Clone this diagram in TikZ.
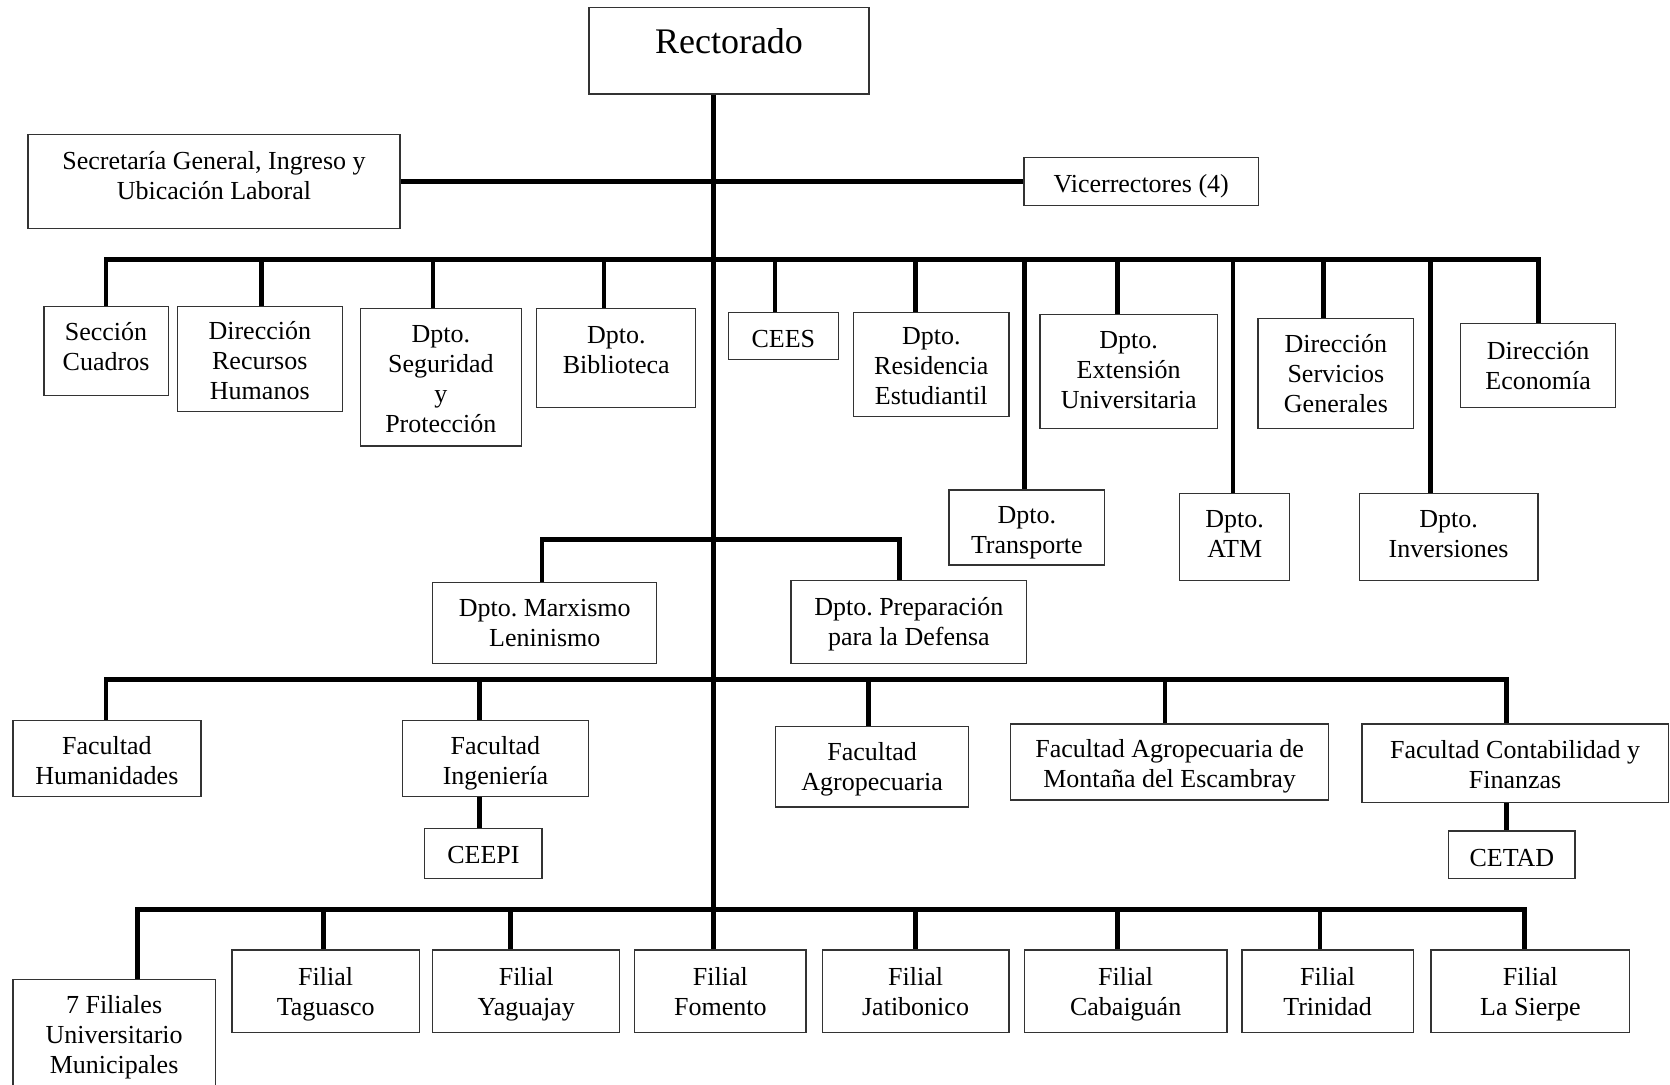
\documentclass[tikz,border=0pt]{standalone}
\usepackage{fontspec}
\setmainfont{Liberation Serif}
\newcommand\orgbox[7]{%
  \node[box, minimum width={(#4-#2)*1pt}, minimum height={(#5-#3)*1pt}] (#1) at ({(#2+#4)/2},{(#3+#5)/2}) {};
  \node[txt] (#1t) at ([yshift={(#6-4.3)*1pt}]#1.center) {#7};}
\begin{document}
\begin{tikzpicture}[x=1pt,y=-1pt,
  box/.style={draw=black!80, line width=1.3pt, inner sep=0pt},
  txt/.style={align=center, inner sep=0pt, font=\fontsize{26}{30}\selectfont\frenchspacing,
    execute at begin node=\strut, execute at end node=\strut},
  bus/.style={line width=4.5pt, line cap=rect},
  conn/.style={line width=4.5pt, line cap=butt}]
\useasboundingbox (0,0) rectangle (1670,1084);
\clip (0,0) rectangle (1670,1084);
\fill[white] (0,0) rectangle (1670,1084);

% boxes
\node[box, minimum width=280pt, minimum height=86.5pt] (rect) at (729,50.75) {};
\node[inner sep=0pt, font=\fontsize{36}{40}\selectfont] (rectt) at (729,41) {Rectorado};
\orgbox{sec}{27.9}{134.3}{400.1}{228.7}{6}{Secretaría General, Ingreso y\\Ubicación Laboral}
\orgbox{vic}{1023.9}{157.3}{1258.5}{205.3}{-1}{Vicerrectores (4)}
\orgbox{sc}{43.9}{306.3}{168.2}{395.3}{4}{Sección\\Cuadros}
\orgbox{rh}{177.3}{306.3}{342.3}{411.7}{-2}{Dirección\\Recursos\\Humanos}
\orgbox{seg}{360.5}{308.7}{521.2}{446}{-2}{Dpto.\\Seguridad\\y\\Protección}
\orgbox{bib}{536.7}{308.3}{695.8}{407.3}{8}{Dpto.\\Biblioteca}
\orgbox{cees}{728.5}{312.3}{838.2}{359.3}{-1}{CEES}
\orgbox{res}{853.6}{312.3}{1008.9}{416.3}{-2}{Dpto.\\Residencia\\Estudiantil}
\orgbox{ext}{1040}{314.3}{1217.3}{428.3}{1}{Dpto.\\Extensión\\Universitaria}
\orgbox{serv}{1258}{318.3}{1413.8}{428.3}{0}{Dirección\\Servicios\\Generales}
\orgbox{eco}{1460.4}{323.7}{1615.8}{407.3}{0}{Dirección\\Economía}
\orgbox{trans}{948.9}{490}{1104.8}{565}{-3}{Dpto.\\Transporte}
\orgbox{atm}{1179.8}{493.3}{1289.6}{580.7}{3}{Dpto.\\ATM}
\orgbox{inv}{1359.2}{493.3}{1538.1}{580.7}{3}{Dpto.\\Inversiones}
\orgbox{marx}{432.8}{582.3}{656.7}{663.3}{0}{Dpto. Marxismo\\Leninismo}
\orgbox{def}{791.1}{580.3}{1026.6}{663.7}{0}{Dpto. Preparación\\para la Defensa}
\orgbox{hum}{12.9}{720.7}{200.9}{796.7}{-2}{Facultad\\Humanidades}
\orgbox{ing}{402.3}{720.7}{588.6}{796.7}{-2}{Facultad\\Ingeniería}
\orgbox{ceepi}{424.8}{828.3}{542}{878.3}{0}{CEEPI}
\orgbox{agro}{775.6}{726.7}{968.7}{807}{0}{Facultad\\Agropecuaria}
\orgbox{mont}{1010.5}{724}{1328.7}{800}{-2}{Facultad Agropecuaria de\\Montaña del Escambray}
\orgbox{cont}{1361.9}{724}{1668.2}{802.7}{-1}{Facultad Contabilidad y\\Finanzas}
\orgbox{cetad}{1448.6}{831}{1575}{878.3}{-2}{CETAD}
\orgbox{fil7}{12.9}{979.3}{215.3}{1095}{2}{7 Filiales\\Universitario\\Municipales}
\orgbox{tag}{231.9}{950}{419.4}{1032.7}{0}{Filial\\Taguasco}
\orgbox{yag}{432.8}{950}{619.7}{1032.7}{0}{Filial\\Yaguajay}
\orgbox{fom}{634.7}{950}{806.1}{1032.7}{0}{Filial\\Fomento}
\orgbox{jat}{822.2}{950}{1008.9}{1032.7}{0}{Filial\\Jatibonico}
\orgbox{cab}{1024.4}{950}{1226.9}{1032.7}{0}{Filial\\Cabaiguán}
\orgbox{tri}{1241.9}{950}{1413.3}{1032.7}{0}{Filial\\Trinidad}
\orgbox{sie}{1431}{950}{1629.7}{1032.7}{0}{Filial\\La Sierpe}

% bus coordinates
\coordinate (dsc) at (106,259.5);
\coordinate (drh) at (261.4,259.5);
\coordinate (dseg) at (432.8,259.5);
\coordinate (dbib) at (604.2,259.5);
\coordinate (dcees) at (775,259.5);
\coordinate (dres) at (915.7,259.5);
\coordinate (dtrans) at (1024.4,259.5);
\coordinate (dext) at (1117.6,259.5);
\coordinate (datm) at (1232.8,259.5);
\coordinate (dserv) at (1323.3,259.5);
\coordinate (dinv) at (1430.4,259.5);
\coordinate (deco) at (1538.6,259.5);
\coordinate (dmarx) at (542,539.3);
\coordinate (ddef) at (899.6,539.3);
\coordinate (dhum) at (106,679.3);
\coordinate (ding) at (479.4,679.3);
\coordinate (dagro) at (868.6,679.3);
\coordinate (dmont) at (1164.8,679.3);
\coordinate (dcont) at (1506.5,679.3);
\coordinate (dfil7) at (137.7,909.3);
\coordinate (dtag) at (323.5,909.3);
\coordinate (dyag) at (510.4,909.3);
\coordinate (dfom) at (713.5,909.3);
\coordinate (djat) at (915.7,909.3);
\coordinate (dcab) at (1117.6,909.3);
\coordinate (dtri) at (1320.1,909.3);
\coordinate (dsie) at (1524.7,909.3);

% trunk and side line
\draw[conn] (rect.south -| dfom) -- (dfom |- fom.north);
\draw[conn] (sec.east) -- (sec.east -| vic.west);

% buses
\draw[bus] (dsc) -- (deco);
\draw[bus] (dmarx) -- (ddef);
\draw[bus] (dhum) -- (dcont);
\draw[bus] (dfil7) -- (dsie);

% drops
\foreach \d/\n in {dsc/sc, drh/rh, dseg/seg, dbib/bib, dcees/cees, dres/res,
  dtrans/trans, dext/ext, datm/atm, dserv/serv, dinv/inv, deco/eco,
  dmarx/marx, ddef/def, dhum/hum, ding/ing, dagro/agro, dmont/mont, dcont/cont,
  dfil7/fil7, dtag/tag, dyag/yag, djat/jat, dcab/cab, dtri/tri, dsie/sie}
  \draw[conn] (\d) -- (\d |- \n.north);

\draw[conn] (ding |- ing.south) -- (ding |- ceepi.north);
\draw[conn] (dcont |- cont.south) -- (dcont |- cetad.north);
\end{tikzpicture}
\end{document}
